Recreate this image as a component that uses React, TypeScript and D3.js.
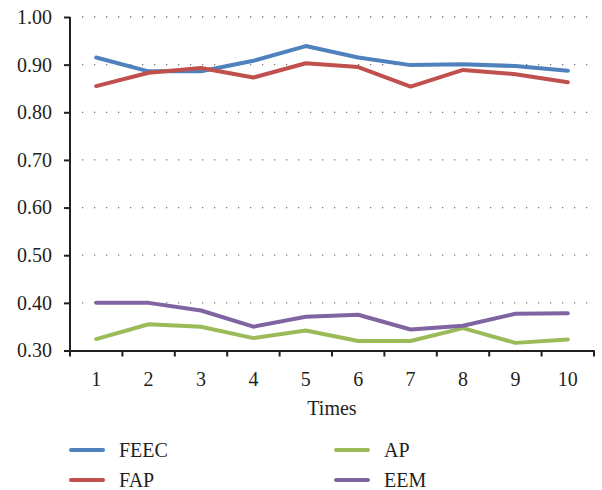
import { useEffect, useRef } from 'react';
import * as d3 from 'd3';

const times = ['1', '2', '3', '4', '5', '6', '7', '8', '9', '10'];
const feec = [0.915, 0.886, 0.886, 0.908, 0.939, 0.915, 0.899, 0.901, 0.897, 0.887];
const fap = [0.855, 0.883, 0.893, 0.873, 0.903, 0.895, 0.854, 0.889, 0.880, 0.863];
const ap = [0.324, 0.355, 0.350, 0.326, 0.342, 0.320, 0.320, 0.347, 0.316, 0.323];
const eem = [0.400, 0.400, 0.384, 0.350, 0.371, 0.375, 0.344, 0.352, 0.377, 0.378];
const yTicks = [0.3, 0.4, 0.5, 0.6, 0.7, 0.8, 0.9, 1.0];

const series = [
  { name: 'FEEC', values: feec, color: '#4F81BD' },
  { name: 'FAP', values: fap, color: '#C0504D' },
  { name: 'AP', values: ap, color: '#9BBB59' },
  { name: 'EEM', values: eem, color: '#8064A2' },
];

export default function App() {
  const ref = useRef<HTMLDivElement>(null);
  useEffect(() => {
    const width = 602;
    const height = 490;
    const marginLeft = 70;
    const marginRight = 8;
    const marginTop = 17;
    const plotBottom = 350.5;
    const font = '"Liberation Serif", "Times New Roman", serif';
    const ink = '#231F20';
    const fontSize = 20;

    const x = d3.scaleBand<string>()
      .domain(times)
      .range([marginLeft, width - marginRight]);

    const y = d3.scaleLinear()
      .domain([0.3, 1.0])
      .range([plotBottom, marginTop]);

    const svg = d3.create('svg')
      .attr('width', width)
      .attr('height', height)
      .attr('viewBox', [0, 0, width, height])
      .style('position', 'absolute')
      .style('left', '0px')
      .style('top', '0px')
      .style('font-family', font);

    // Dotted gridlines
    svg.append('g')
      .selectAll()
      .data(yTicks.slice(1))
      .join('line')
      .attr('x1', marginLeft + 12)
      .attr('x2', width - marginRight - 4)
      .attr('y1', (d) => y(d))
      .attr('y2', (d) => y(d))
      .attr('stroke', '#777')
      .attr('stroke-width', 1.3)
      .attr('stroke-dasharray', '1.3 10.7');

    // Lines
    const line = d3.line<number>()
      .x((_, i) => x(times[i])! + x.bandwidth() / 2)
      .y((d) => y(d));

    svg.append('g')
      .selectAll()
      .data(series)
      .join('path')
      .attr('fill', 'none')
      .attr('stroke', (d) => d.color)
      .attr('stroke-width', 4)
      .attr('stroke-linecap', 'round')
      .attr('stroke-linejoin', 'round')
      .attr('d', (d) => line(d.values));

    // Y axis
    const yAxis = svg.append('g')
      .attr('transform', `translate(${marginLeft},0)`)
      .call(d3.axisLeft(y).tickValues(yTicks).tickFormat(d3.format('.2f')).tickSize(6).tickPadding(12));
    yAxis.select('.domain').attr('stroke', ink).attr('stroke-width', 2).attr('d', `M0,${marginTop}V${plotBottom}`);
    yAxis.selectAll('.tick line').attr('stroke', ink).attr('stroke-width', 2);
    yAxis.selectAll('.tick text')
      .attr('fill', ink)
      .attr('font-size', fontSize)
      .attr('font-family', font);

    // X axis
    const xAxis = svg.append('g')
      .attr('transform', `translate(0,${plotBottom})`)
      .call(d3.axisBottom(x).tickSize(0).tickPadding(21));
    xAxis.select('.domain').attr('stroke', ink).attr('stroke-width', 2);
    xAxis.selectAll('.tick text')
      .attr('fill', ink)
      .attr('font-size', fontSize)
      .attr('font-family', font);
    xAxis.append('g')
      .selectAll()
      .data([...times.map((t) => x(t)!), width - marginRight])
      .join('line')
      .attr('x1', (d) => d)
      .attr('x2', (d) => d)
      .attr('y1', 0)
      .attr('y2', 6)
      .attr('stroke', ink)
      .attr('stroke-width', 2);

    svg.append('text')
      .attr('x', (marginLeft + width - marginRight) / 2)
      .attr('y', 415)
      .attr('text-anchor', 'middle')
      .attr('fill', ink)
      .attr('font-size', fontSize)
      .text('Times');

    // Legend
    const legend = svg.append('g')
      .selectAll()
      .data(series)
      .join('g')
      .attr('transform', (_, i) => `translate(${i < 2 ? 70 : 335},${i % 2 === 0 ? 450 : 480})`);
    legend.append('line')
      .attr('x1', 1)
      .attr('x2', 33)
      .attr('stroke', (d) => d.color)
      .attr('stroke-width', 4)
      .attr('stroke-linecap', 'round');
    legend.append('text')
      .attr('x', 49)
      .attr('dy', '0.33em')
      .attr('fill', ink)
      .attr('font-size', fontSize)
      .text((d) => d.name);

    const node = svg.node()!;
    ref.current?.append(node);
    return () => {
      node.remove();
    };
  }, []);
  return <div ref={ref}></div>;
}
